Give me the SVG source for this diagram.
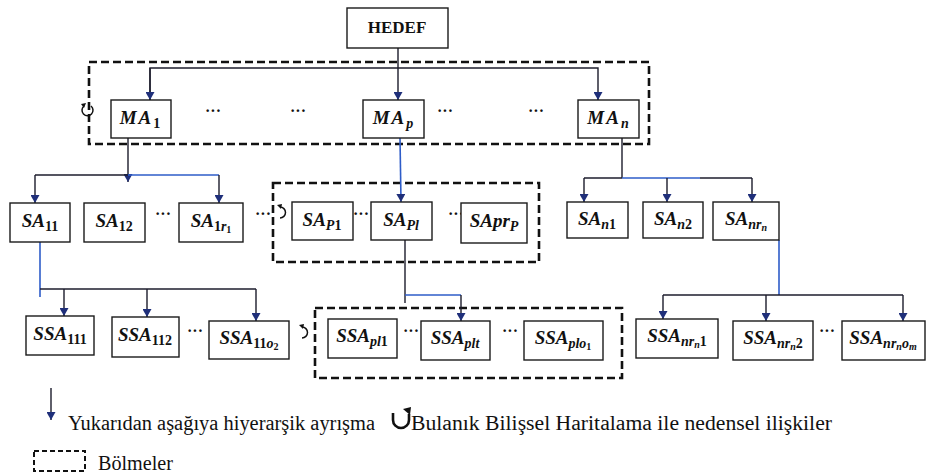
<svg xmlns="http://www.w3.org/2000/svg" width="929" height="475" viewBox="0 0 929 475" font-family="Liberation Serif, Times New Roman, serif">
<style>
.box{fill:#fff;stroke:#1a1a1a;stroke-width:1.4}
.dash{fill:none;stroke:#111;stroke-width:2.6;stroke-dasharray:8 4}
.ln{fill:none;stroke:#1c1c2c;stroke-width:1.4}
.bl{fill:none;stroke:#2e5cc8;stroke-width:1.6}
.lbl{font-style:italic;font-weight:bold;font-size:19px;text-anchor:middle;fill:#111}
.s{font-size:14px}
.ss{font-size:10px}
.u{font-style:normal}
.dots{font-weight:bold;font-size:16px;text-anchor:middle;fill:#111}
.cyc{fill:none;stroke:#111;stroke-width:1.5}
.leg{font-size:20px;fill:#111}
</style>
<defs>
<marker id="ah" markerUnits="userSpaceOnUse" markerWidth="9" markerHeight="9" refX="8" refY="4.5" orient="auto">
<path d="M0,0 L8,4.5 L0,9 z" fill="#1f2f7a"/>
</marker>
</defs>
<rect width="929" height="475" fill="#fff"/>

<g id="partitions">
<rect class="dash" x="89" y="62" width="560" height="82"/>
<rect class="dash" x="273" y="183" width="266" height="79"/>
<rect class="dash" x="315" y="308" width="307" height="70"/>
</g>

<g id="connectors">
<line class="ln" x1="398" y1="48" x2="398" y2="100" marker-end="url(#ah)"/>
<polyline class="ln" points="150,100 150,68 598,68 598,100" marker-end="url(#ah)"/>
<line class="ln" x1="150" y1="68" x2="150" y2="100" marker-end="url(#ah)"/>
<line class="ln" x1="128" y1="138" x2="128" y2="182" marker-end="url(#ah)"/>
<line class="ln" x1="35" y1="175" x2="128" y2="175"/>
<line class="bl" x1="128" y1="175" x2="219" y2="175"/>
<line class="ln" x1="35" y1="175" x2="35" y2="203" marker-end="url(#ah)"/>
<line class="ln" x1="219" y1="175" x2="219" y2="203" marker-end="url(#ah)"/>
<line class="bl" x1="400" y1="138" x2="401" y2="202" marker-end="url(#ah)"/>
<line class="ln" x1="622" y1="138" x2="622" y2="178"/>
<line class="ln" x1="584" y1="178" x2="622" y2="178"/>
<line class="bl" x1="622" y1="178" x2="700" y2="178"/>
<line class="ln" x1="700" y1="178" x2="752" y2="178"/>
<line class="ln" x1="584" y1="178" x2="584" y2="202" marker-end="url(#ah)"/>
<line class="ln" x1="667" y1="178" x2="667" y2="202" marker-end="url(#ah)"/>
<line class="ln" x1="752" y1="178" x2="752" y2="202" marker-end="url(#ah)"/>
<line class="bl" x1="40" y1="242" x2="40" y2="297"/>
<line class="ln" x1="40" y1="289" x2="256" y2="289"/>
<line class="ln" x1="64" y1="289" x2="64" y2="316" marker-end="url(#ah)"/>
<line class="ln" x1="147" y1="289" x2="147" y2="317" marker-end="url(#ah)"/>
<line class="ln" x1="256" y1="289" x2="256" y2="321" marker-end="url(#ah)"/>
<line class="ln" x1="405" y1="240" x2="405" y2="303"/>
<line class="bl" x1="405" y1="295" x2="461" y2="295"/>
<line class="ln" x1="461" y1="295" x2="461" y2="321" marker-end="url(#ah)"/>
<line class="bl" x1="779" y1="240" x2="779" y2="295"/>
<line class="ln" x1="663" y1="295" x2="903" y2="295"/>
<line class="ln" x1="663" y1="295" x2="663" y2="319" marker-end="url(#ah)"/>
<line class="ln" x1="766" y1="295" x2="766" y2="321" marker-end="url(#ah)"/>
<line class="ln" x1="903" y1="295" x2="903" y2="321" marker-end="url(#ah)"/>
</g>

<g id="cycles">
<path class="cyc" d="M84,106 A5.5,5.5 0 1 0 91,106"/>
<path d="M81,104 L86,103 L84,108 z" fill="#111"/>
<path class="cyc" d="M280,207 A5.5,5.5 0 1 1 280,218"/>
<path d="M277,205 L282,204 L281,209 z" fill="#111"/>
<path class="cyc" d="M302,327 A5.5,5.5 0 1 1 302,338"/>
<path d="M299,325 L304,324 L303,329 z" fill="#111"/>
</g>

<g id="dots">
<text class="dots" x="213" y="116">···</text>
<text class="dots" x="298" y="116">···</text>
<text class="dots" x="445" y="116">···</text>
<text class="dots" x="536" y="116">···</text>
<text class="dots" x="163" y="219">···</text>
<text class="dots" x="263" y="219">···</text>
<text class="dots" x="361" y="219">···</text>
<text class="dots" x="456" y="219">···</text>
<text class="dots" x="195" y="336">···</text>
<text class="dots" x="411" y="336">···</text>
<text class="dots" x="510" y="336">···</text>
<text class="dots" x="827" y="336">···</text>
</g>

<g id="HEDEF"><rect class="box" x="347" y="8" width="101" height="40"/>
<text x="397" y="33" font-weight="bold" font-size="17" text-anchor="middle" fill="#111">HEDEF</text></g>

<g id="MA1"><rect class="box" x="111" y="100" width="60" height="38"/>
<text class="lbl" x="140" y="124"><tspan letter-spacing="2">MA</tspan><tspan class="s u" dy="4">1</tspan></text></g>
<g id="MAp"><rect class="box" x="363" y="100" width="61" height="38"/>
<text class="lbl" x="393" y="124"><tspan letter-spacing="2">MA</tspan><tspan class="s" dy="4">p</tspan></text></g>
<g id="MAn"><rect class="box" x="578" y="100" width="61" height="38"/>
<text class="lbl" x="608" y="124"><tspan letter-spacing="2">MA</tspan><tspan class="s" dy="4">n</tspan></text></g>

<g id="SA11"><rect class="box" x="10" y="203" width="60" height="39"/>
<text class="lbl" x="40" y="227">SA<tspan class="s u" dy="4">11</tspan></text></g>
<g id="SA12"><rect class="box" x="84" y="203" width="61" height="39"/>
<text class="lbl" x="114" y="227">SA<tspan class="s u" dy="4">12</tspan></text></g>
<g id="SA1r1"><rect class="box" x="179" y="203" width="64" height="39"/>
<text class="lbl" x="211" y="227">SA<tspan class="s u" dy="4">1</tspan><tspan class="s">r</tspan><tspan class="ss u" dy="2">1</tspan></text></g>
<g id="SAP1"><rect class="box" x="292" y="202" width="61" height="38"/>
<text class="lbl" x="322" y="226">SA<tspan class="s" dy="4">P</tspan><tspan class="s u">1</tspan></text></g>
<g id="SAPl"><rect class="box" x="371" y="202" width="61" height="38"/>
<text class="lbl" x="401" y="226">SA<tspan class="s" dy="4">Pl</tspan></text></g>
<g id="SAprp"><rect class="box" x="461" y="203" width="66" height="40"/>
<text class="lbl" x="494" y="227">SApr<tspan class="s" dy="4">P</tspan></text></g>
<g id="SAn1"><rect class="box" x="567" y="202" width="61" height="36"/>
<text class="lbl" x="597" y="225">SA<tspan class="s" dy="4">n</tspan><tspan class="s u">1</tspan></text></g>
<g id="SAn2"><rect class="box" x="643" y="202" width="60" height="36"/>
<text class="lbl" x="673" y="225">SA<tspan class="s" dy="4">n</tspan><tspan class="s u">2</tspan></text></g>
<g id="SAnrn"><rect class="box" x="713" y="202" width="66" height="38"/>
<text class="lbl" x="746" y="225">SA<tspan class="s" dy="4">nr</tspan><tspan class="ss" dy="2">n</tspan></text></g>

<g id="SSA111"><rect class="box" x="26" y="316" width="68" height="39"/>
<text class="lbl" x="60" y="340">SSA<tspan class="s u" dy="4">111</tspan></text></g>
<g id="SSA112"><rect class="box" x="112" y="317" width="67" height="40"/>
<text class="lbl" x="145" y="341">SSA<tspan class="s u" dy="4">112</tspan></text></g>
<g id="SSA11o2"><rect class="box" x="209" y="321" width="80" height="38"/>
<text class="lbl" x="249" y="344">SSA<tspan class="s u" dy="4">11</tspan><tspan class="s">o</tspan><tspan class="ss u" dy="2">2</tspan></text></g>
<g id="SSApl1"><rect class="box" x="328" y="319" width="69" height="39"/>
<text class="lbl" x="362" y="342">SSA<tspan class="s" dy="4">pl</tspan><tspan class="s u">1</tspan></text></g>
<g id="SSAplt"><rect class="box" x="421" y="321" width="69" height="39"/>
<text class="lbl" x="455" y="344">SSA<tspan class="s" dy="4">plt</tspan></text></g>
<g id="SSAplo1"><rect class="box" x="524" y="321" width="79" height="39"/>
<text class="lbl" x="563" y="344">SSA<tspan class="s" dy="4">plo</tspan><tspan class="ss u" dy="2">1</tspan></text></g>
<g id="SSAnrn1"><rect class="box" x="636" y="319" width="82" height="39"/>
<text class="lbl" x="677" y="342">SSA<tspan class="s" dy="4">nr</tspan><tspan class="ss" dy="2">n</tspan><tspan class="s u" dy="-2">1</tspan></text></g>
<g id="SSAnrn2"><rect class="box" x="733" y="321" width="80" height="39"/>
<text class="lbl" x="773" y="344">SSA<tspan class="s" dy="4">nr</tspan><tspan class="ss" dy="2">n</tspan><tspan class="s u" dy="-2">2</tspan></text></g>
<g id="SSAnrnom"><rect class="box" x="842" y="321" width="83" height="39"/>
<text class="lbl" x="883" y="344">SSA<tspan class="s" dy="4">nr</tspan><tspan class="ss" dy="2">n</tspan><tspan class="s" dy="-2">o</tspan><tspan class="ss" dy="2">m</tspan></text></g>

<g id="legend">
<line class="ln" x1="51" y1="388" x2="51" y2="420" marker-end="url(#ah)"/>
<text class="leg" x="68" y="430" textLength="307" lengthAdjust="spacingAndGlyphs">Yukarıdan aşağıya hiyerarşik ayrışma</text>
<path d="M393,413 L393,420 A8,8 0 0 0 409,420 L409,414" fill="none" stroke="#111" stroke-width="2.6"/>
<path d="M403,409 L411,407 L410,415 z" fill="#111"/>
<text class="leg" x="411" y="430" textLength="421" lengthAdjust="spacingAndGlyphs">Bulanık Bilişsel Haritalama ile nedensel ilişkiler</text>
<rect x="34" y="451" width="51" height="20" fill="none" stroke="#111" stroke-width="2" stroke-dasharray="5 3"/>
<text class="leg" x="98" y="470" textLength="75" lengthAdjust="spacingAndGlyphs" fill="#333">Bölmeler</text>
</g>
</svg>
